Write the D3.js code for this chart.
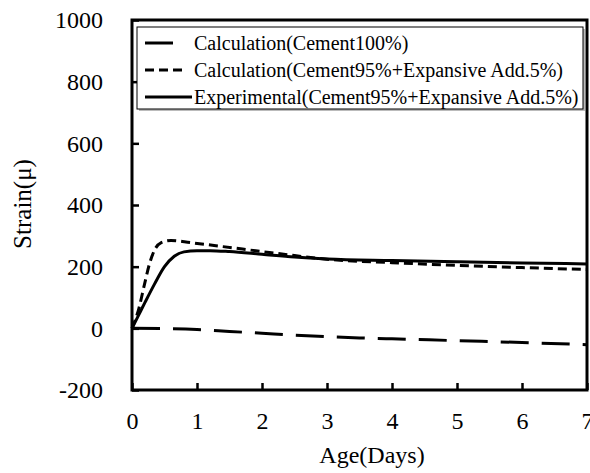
<!DOCTYPE html>
<html lang="en">
<head>
<meta charset="UTF-8">
<title>Strain vs Age</title>
<script src="https://d3js.org/d3.v7.min.js"></script>
<style>
  body { margin: 0; background: #fff; }
  svg text { font-family: "Liberation Serif", Tinos, "Times New Roman", serif; }
</style>
</head>
<body>
<svg width="590" height="473"></svg>
<script>
// data (day, strain in micro)
const calc100 = [[0,0],[0.5,-1],[1,-4],[1.5,-10],[2,-16],[2.5,-22],[3,-27],[3.5,-31],[4,-34],[5,-40],[6,-46],[7,-53]];
const calc95 = [[0,0],[0.1,60],[0.2,150],[0.27,210],[0.35,255],[0.45,278],[0.6,285],[0.9,278],[1.4,265],[2,249],[2.5,236],[3,224],[4,213],[5,204],[6,197],[7,191]];
const exp95 = [[0,0],[0.1,42],[0.2,84],[0.35,145],[0.5,200],[0.65,234],[0.8,248],[1,252],[1.2,252],[1.5,249],[2,240],[2.5,231],[3,225],[4,220],[5,216],[6,212],[7,209]];
const xTicks = [0,1,2,3,4,5,6,7];
const yTicks = [-200,0,200,400,600,800,1000];
const legendLabels = [
  "Calculation(Cement100%)",
  "Calculation(Cement95%+Expansive Add.5%)",
  "Experimental(Cement95%+Expansive Add.5%)"
];

const FONT = "Liberation Serif";
const svg = d3.select("svg");
const plotL = 132, plotR = 587, plotT = 20, plotB = 390;

const x = d3.scaleLinear().domain([0, 7]).range([plotL, plotR]);
const y = d3.scaleLinear().domain([-200, 1000]).range([plotB, plotT]);

// plain hyphen for negatives, like the original
const fmt = d => String(d);

// axes with inward ticks
const xAxis = svg.append("g")
  .attr("transform", `translate(0,${plotB})`)
  .call(d3.axisBottom(x).tickValues(xTicks).tickSize(-7).tickPadding(22).tickFormat(fmt));
const yAxis = svg.append("g")
  .attr("transform", `translate(${plotL},0)`)
  .call(d3.axisLeft(y).tickValues(yTicks).tickSize(-7).tickPadding(29).tickFormat(fmt));

[xAxis, yAxis].forEach(g => {
  g.attr("font-family", FONT).attr("font-size", 24);
  g.select(".domain").remove();
  g.selectAll(".tick line").attr("stroke", "#000").attr("stroke-width", 2.5);
  g.selectAll(".tick text").attr("fill", "#000").attr("font-family", FONT).attr("font-size", 24);
});
xAxis.selectAll(".tick text").attr("dy", "0.71em");

// frame
svg.append("rect")
  .attr("x", plotL).attr("y", plotT)
  .attr("width", plotR - plotL).attr("height", plotB - plotT)
  .attr("fill", "none").attr("stroke", "#000").attr("stroke-width", 3);

const line = d3.line().x(d => x(d[0])).y(d => y(d[1])).curve(d3.curveMonotoneX);

const series = [
  { data: calc100, dash: "28,13" },
  { data: calc95, dash: "9,5" },
  { data: exp95, dash: null }
];

series.forEach(s => {
  svg.append("path")
    .attr("d", line(s.data))
    .attr("fill", "none")
    .attr("stroke", "#000")
    .attr("stroke-width", 3)
    .attr("stroke-dasharray", s.dash);
});

// legend
const lg = svg.append("g");
lg.append("rect")
  .attr("x", 139).attr("y", 29).attr("width", 446).attr("height", 82)
  .attr("fill", "#bbb");
lg.append("rect")
  .attr("x", 137).attr("y", 27).attr("width", 446).attr("height", 82)
  .attr("fill", "#fff").attr("stroke", "#000").attr("stroke-width", 1);

const rowY = [43, 70, 97];
const sampleEnd = [175, 184, 192];
legendLabels.forEach((label, i) => {
  lg.append("line")
    .attr("x1", 145).attr("x2", sampleEnd[i])
    .attr("y1", rowY[i]).attr("y2", rowY[i])
    .attr("stroke", "#000").attr("stroke-width", 3)
    .attr("stroke-dasharray", series[i].dash);
  lg.append("text")
    .attr("x", 194).attr("y", rowY[i] + 7)
    .attr("font-family", FONT)
    .attr("font-size", 20)
    .text(label);
});

// axis titles
svg.append("text")
  .attr("x", 372).attr("y", 463)
  .attr("text-anchor", "middle")
  .attr("font-family", FONT)
  .attr("font-size", 24)
  .text("Age(Days)");

svg.append("text")
  .attr("transform", "translate(31,204) rotate(-90)")
  .attr("text-anchor", "middle")
  .attr("font-family", FONT)
  .attr("font-size", 25)
  .text("Strain(\u03bc)");
</script>
</body>
</html>
